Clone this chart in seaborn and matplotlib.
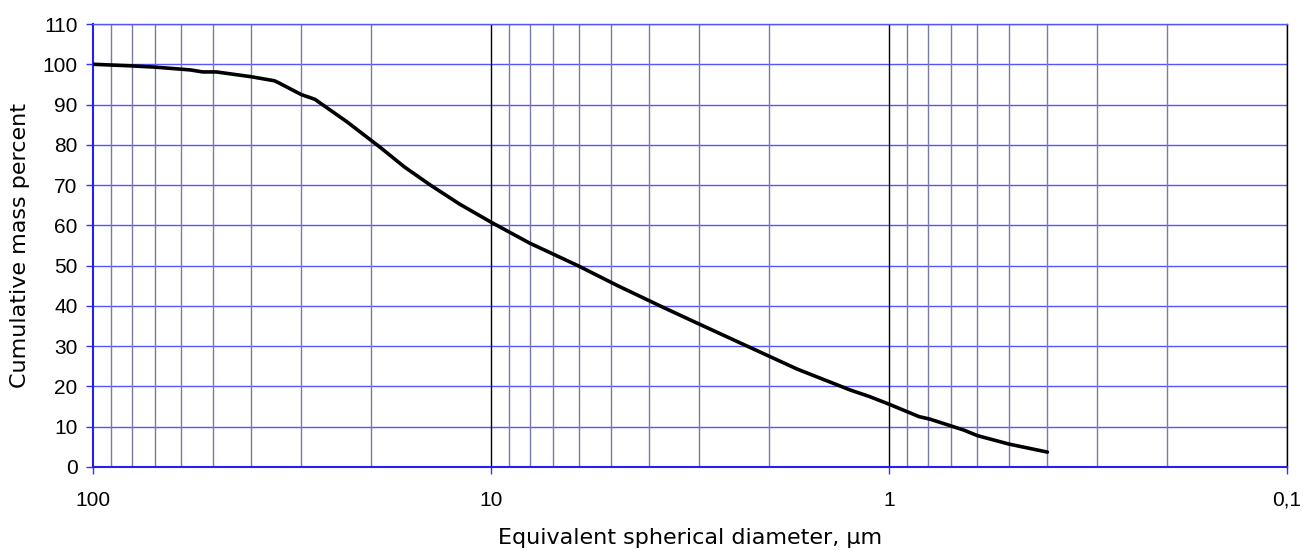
import numpy as np
import pandas as pd
import matplotlib
matplotlib.use("Agg")
import matplotlib.pyplot as plt
import seaborn as sns
from matplotlib.ticker import FixedLocator, LogLocator, NullFormatter

# particle size distribution
diameter = [100, 80, 70, 57, 53, 49, 40, 35, 34, 30, 27.7, 23, 19, 16.5,
            14.2, 12, 10, 8, 6.05, 4.8, 3.76, 3.0, 2.27, 1.7, 1.25, 1.12,
            1.0, 0.84, 0.79, 0.65, 0.6, 0.5, 0.4]
mass_pct = [100, 99.6, 99.3, 98.6, 98.1, 98.1, 96.9, 95.9, 95.3, 92.5, 91.3,
            85.7, 79.4, 74.5, 70, 65.3, 60.8, 55.6, 50, 45, 40, 35.5, 30,
            24.3, 19.1, 17.5, 15.6, 12.5, 11.9, 9.2, 7.8, 5.7, 3.7]

xticks = [100, 10, 1, 0.1]
xtick_labels = ["100", "10", "1", "0,1"]
yticks = list(range(0, 111, 10))

df = pd.DataFrame({"diameter": diameter, "mass": mass_pct})

sns.set_theme(style="white")
plt.rcParams['font.family'] = ['Liberation Sans', 'DejaVu Sans']

fig = plt.figure(figsize=(13.03, 5.51), dpi=100)
ax = fig.add_axes([93 / 1303, 84 / 551, 1194 / 1303, 443 / 551])

ax.set_xscale("log")
ax.set_xlim(100, 0.1)
ax.set_ylim(0, 110)

# grid: blue horizontals, greyish-purple minor verticals, black decades
for y in yticks:
    ax.axhline(y, color="#5555ff", lw=1.0, zorder=1)
for base in [10, 1, 0.1]:
    for m in range(2, 10):
        ax.axvline(base * m, color="#7a7aa8", lw=1.0, zorder=1)
for x in [10, 1, 0.1]:
    ax.axvline(x, color="black", lw=1.0, zorder=1)

sns.lineplot(data=df, x="diameter", y="mass", color="black", lw=2.6,
             ax=ax, zorder=3)

ax.xaxis.set_major_locator(FixedLocator(xticks))
ax.set_xticklabels(xtick_labels)
ax.xaxis.set_minor_locator(LogLocator(base=10, subs=np.arange(2, 10)))
ax.xaxis.set_minor_formatter(NullFormatter())
ax.set_yticks(yticks)

ax.tick_params(axis="both", which="major", direction="out", length=5,
               width=1, color="#3333ff", labelsize=15, labelcolor="black",
               bottom=True, left=True)
ax.tick_params(axis="x", which="major", pad=12)
ax.tick_params(axis="y", which="major", pad=6)
ax.tick_params(axis="x", which="minor", length=0)

for side in ["left", "bottom"]:
    ax.spines[side].set_color("#2222ee")
    ax.spines[side].set_linewidth(1.5)
ax.spines["top"].set_color("#5555ff")
ax.spines["top"].set_linewidth(1.0)
ax.spines["right"].set_color("black")
ax.spines["right"].set_linewidth(1.0)

ax.set_xlabel("Equivalent spherical diameter, µm", fontsize=16,
              family="DejaVu Sans", va="center", color="black")
ax.xaxis.set_label_coords(0.5, -71 / 443)
ax.set_ylabel("Cumulative mass percent", fontsize=16,
              family="DejaVu Sans", va="center", color="black")
ax.yaxis.set_label_coords(-73 / 1194, 0.5)

fig.savefig("out.png", dpi=100)
